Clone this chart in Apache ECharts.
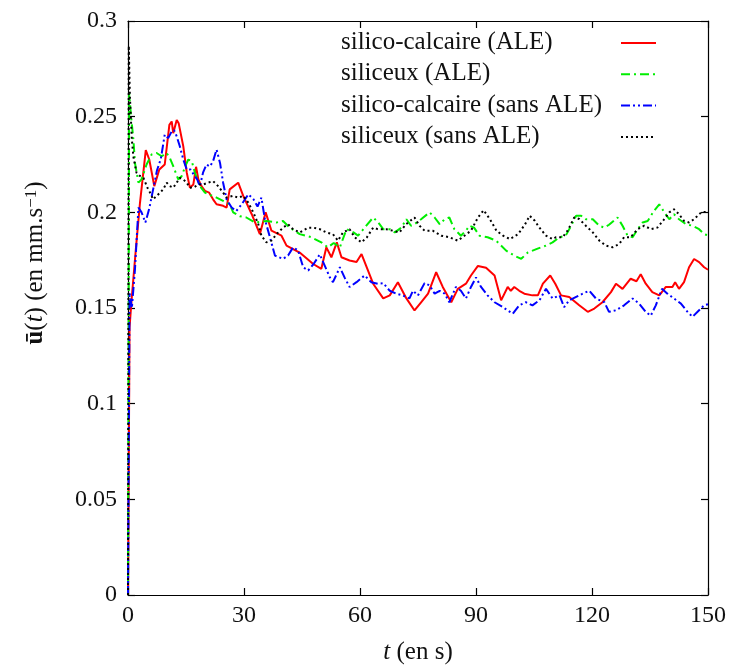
<!DOCTYPE html>
<html>
<head>
<meta charset="utf-8">
<script src="https://cdn.jsdelivr.net/npm/echarts@6/dist/echarts.min.js"></script>
<style>
html,body{margin:0;padding:0;background:#fff;}
#chart{width:736px;height:670px;}
</style>
</head>
<body>
<div id="chart"></div>
<script>
// ---- data: [t (s), u (mm/s)] ----
const seriesNames = ['silico-calcaire (ALE)', 'siliceux (ALE)', 'silico-calcaire (sans ALE)', 'siliceux (sans ALE)'];
const xTicks = [0, 30, 60, 90, 120, 150];
const yTicks = [0, 0.05, 0.1, 0.15, 0.2, 0.25, 0.3];

const silicoCalcaireALE = [[0,0],[0.4,0.14],[1,0.156],[2,0.18],[3.1,0.205],[4.6,0.2325],[5.5,0.2276],[6.8,0.2137],[8.1,0.2224],[9.5,0.225],[10.7,0.2457],[11.3,0.2475],[11.7,0.2414],[12.6,0.2483],[13.1,0.2466],[13.6,0.2475],[14.3,0.2345],[15.2,0.2207],[16,0.2129],[16.9,0.2146],[17.6,0.2238],[18.2,0.2172],[19,0.2137],[19.9,0.2112],[21,0.2103],[22,0.2068],[22.9,0.2042],[24.6,0.2034],[25.5,0.2025],[26.3,0.212],[28.5,0.2155],[29.8,0.2086],[32,0.199],[34.1,0.1886],[35.6,0.2],[37.1,0.1904],[39.7,0.1878],[41,0.1826],[44.4,0.179],[47.9,0.173],[50,0.1705],[51.3,0.1817],[52.6,0.1765],[54,0.1843],[55.2,0.1765],[57.3,0.1748],[59.1,0.174],[60.4,0.1782],[63.4,0.1627],[66,0.155],[67.7,0.1566],[69.8,0.1635],[72,0.155],[74.1,0.1487],[75.8,0.153],[77.6,0.1575],[79.7,0.1687],[81.4,0.161],[83.6,0.153],[85.3,0.16],[87.4,0.1627],[88.7,0.167],[90.5,0.172],[92.6,0.171],[94.8,0.167],[96.5,0.154],[98.2,0.161],[99,0.159],[99.9,0.161],[101.2,0.159],[102.5,0.1575],[104.6,0.1566],[106,0.1566],[107.3,0.1627],[109.2,0.167],[110.5,0.1627],[112,0.1566],[114.1,0.1558],[116.7,0.1514],[118.9,0.148],[120.6,0.1497],[122.7,0.153],[124.9,0.1583],[126.2,0.1627],[127.9,0.16],[130,0.1653],[131.5,0.164],[132.6,0.1676],[133.9,0.1627],[135.6,0.1583],[137.4,0.1566],[139.1,0.161],[140.8,0.161],[141.5,0.1635],[142.5,0.16],[143.8,0.1635],[145.1,0.1713],[146.4,0.1756],[147.7,0.174],[149,0.1713],[150,0.170]];

const siliceuxALE = [[0,0],[0.3,0.262],[0.8,0.25],[1.4,0.238],[1.8,0.2258],[2.7,0.2155],[3.5,0.2172],[4.8,0.225],[6.1,0.2302],[7.4,0.231],[8.7,0.2293],[10,0.231],[10.8,0.2285],[11.7,0.2241],[13,0.2172],[13.9,0.219],[14.8,0.224],[15.6,0.2276],[16.5,0.2267],[17.3,0.2207],[18.6,0.2137],[19.9,0.2103],[21.3,0.209],[22.9,0.2077],[24.6,0.206],[26.3,0.2042],[27.2,0.2],[28.9,0.198],[30.6,0.1973],[32.8,0.1947],[35.8,0.1955],[38.4,0.1947],[40.1,0.1955],[41.8,0.192],[44.4,0.1886],[47.4,0.187],[50,0.1843],[51.7,0.1817],[53.2,0.184],[54.8,0.1817],[56.5,0.1912],[58.3,0.1895],[59.5,0.1878],[61.2,0.192],[63.4,0.1973],[64.6,0.195],[66,0.1912],[67.7,0.1912],[69,0.1895],[70.7,0.192],[72,0.1964],[73.2,0.193],[74.1,0.1938],[75.8,0.1964],[78,0.2],[79.3,0.1973],[80.6,0.1938],[81.9,0.1964],[83.1,0.1973],[84.4,0.1912],[86.1,0.1878],[87.4,0.1904],[88.3,0.193],[89.5,0.192],[90.9,0.1878],[93,0.187],[95.2,0.1852],[97.8,0.18],[99.9,0.1774],[101.7,0.1757],[103.4,0.179],[105.6,0.1808],[108.1,0.1826],[109.8,0.1843],[111.6,0.187],[113.2,0.1878],[114.6,0.193],[115.9,0.1982],[117.2,0.1982],[118.4,0.1964],[120.2,0.1964],[121.9,0.193],[123.2,0.192],[124.4,0.1935],[126.6,0.1973],[127.9,0.193],[129.2,0.1878],[130.5,0.187],[131.8,0.1912],[133.1,0.1947],[134.4,0.1955],[136,0.2007],[137.4,0.2042],[138.7,0.2],[140,0.1964],[141.2,0.199],[142.5,0.1964],[144.3,0.1938],[146,0.193],[147.7,0.1912],[149,0.1886],[150,0.188]];

const silicoCalcaireSansALE = [[0,0],[0.4,0.158],[1,0.15],[1.8,0.17],[2.7,0.2025],[3.5,0.2],[4.5,0.1947],[5.5,0.202],[6.5,0.212],[7.5,0.222],[8.5,0.228],[9.5,0.2406],[10.4,0.2388],[11.3,0.2423],[11.9,0.243],[12.6,0.2397],[13.4,0.2345],[14.3,0.2276],[15.2,0.2224],[16.2,0.2224],[17,0.2198],[17.9,0.2172],[18.6,0.2137],[19.4,0.2207],[20.3,0.225],[21.2,0.224],[22,0.2267],[22.9,0.2328],[23.8,0.2258],[24.6,0.2155],[25.5,0.2068],[26.8,0.2025],[28,0.2007],[29.4,0.2042],[31.1,0.2094],[32.4,0.207],[33.5,0.203],[34.5,0.2077],[35.4,0.1964],[36.7,0.187],[38,0.1774],[40.1,0.1757],[41.4,0.1774],[42.7,0.1817],[44,0.18],[45.3,0.1713],[46.6,0.1696],[48,0.173],[49.6,0.178],[50.9,0.172],[52.2,0.166],[53,0.1635],[54.8,0.1713],[56,0.166],[57.3,0.161],[59.1,0.1635],[61.2,0.167],[62.9,0.1635],[64.6,0.1627],[66,0.163],[67.7,0.159],[69.4,0.1575],[71,0.1566],[72.8,0.155],[73.7,0.159],[75,0.1566],[76.7,0.163],[78,0.1618],[79.3,0.1575],[80.6,0.159],[81.9,0.1575],[83.1,0.153],[84.8,0.161],[86.1,0.159],[87.4,0.155],[88.7,0.161],[90,0.166],[91.3,0.161],[93,0.1566],[94.8,0.153],[96.9,0.1505],[99.5,0.147],[101.2,0.1514],[102.9,0.153],[104.6,0.1514],[106.4,0.154],[108.1,0.16],[109.8,0.155],[111.6,0.1566],[112.8,0.1505],[114.1,0.154],[115.9,0.1558],[117.6,0.1575],[119.3,0.159],[121,0.155],[123.2,0.153],[124.4,0.148],[126.2,0.1488],[128.3,0.1514],[130.5,0.155],[132.2,0.1523],[133.9,0.148],[135.2,0.146],[136.5,0.1514],[138.1,0.16],[139.5,0.1575],[141.2,0.155],[143,0.1523],[144.7,0.148],[146,0.1454],[147.3,0.148],[149,0.1514],[150,0.152]];

const siliceuxSansALE = [[0,0],[0.2,0.287],[0.5,0.26],[1,0.238],[1.4,0.229],[2.2,0.2207],[3.1,0.219],[4,0.218],[5,0.213],[5.7,0.2103],[6.5,0.2068],[7.4,0.2086],[8.3,0.2103],[9.1,0.212],[10,0.2155],[10.8,0.2137],[11.7,0.2129],[12.6,0.2155],[13.4,0.218],[14.3,0.2172],[15.2,0.2155],[16,0.2129],[17,0.213],[18.2,0.2146],[19.5,0.2146],[20.7,0.2155],[22,0.2163],[23.3,0.2137],[24.6,0.2103],[25.5,0.2077],[27.2,0.2086],[28.5,0.2077],[29.8,0.2086],[31.1,0.2051],[32.4,0.2],[33.7,0.1938],[34.5,0.1878],[35.8,0.1843],[37.1,0.1852],[38.6,0.189],[40.1,0.192],[41.4,0.1938],[42.7,0.1912],[44.4,0.1895],[46.6,0.192],[47.9,0.192],[49.6,0.1912],[51.3,0.1895],[53,0.1886],[54.3,0.1852],[55.6,0.1895],[57.3,0.1912],[58.6,0.187],[60.4,0.1843],[61.8,0.187],[63.4,0.192],[64.6,0.1912],[66.8,0.1912],[68.5,0.1904],[70.2,0.1895],[71.9,0.1938],[74.1,0.1973],[75.4,0.193],[76.7,0.1904],[78.8,0.1904],[81,0.1878],[83.1,0.187],[85.3,0.1852],[87,0.1878],[88.7,0.1904],[90.5,0.1973],[92,0.2011],[93.6,0.1964],[95.3,0.1904],[97,0.1878],[98.8,0.186],[100.9,0.1886],[102.7,0.1938],[103.9,0.1982],[105.2,0.1956],[106.4,0.192],[108.1,0.1878],[109.8,0.186],[110.7,0.187],[112.4,0.187],[113.7,0.1904],[115.4,0.1973],[116.7,0.1965],[118.4,0.193],[120.2,0.1895],[121.9,0.1852],[123.6,0.1826],[125.3,0.1817],[127,0.1834],[128.3,0.187],[130,0.187],[131.8,0.1912],[133.5,0.193],[135.2,0.1912],[136.9,0.192],[138.7,0.1964],[140,0.2],[141.2,0.2016],[142.5,0.199],[143.8,0.1955],[145.1,0.1947],[146.4,0.1964],[147.7,0.199],[148.5,0.2003],[150,0.2]];

// ---- styling ----
const FONT = "'Liberation Serif', 'DejaVu Serif', serif";
const TXT = '#111';
const colors = ['#ff0000', '#00ee00', '#0000ff', '#000000'];
const dashes = ['solid', [9, 4, 2, 4], [9, 3, 2, 3, 2, 3], [2, 3]];
const dashArrays = [null, [9, 4, 2, 4], [9, 3, 2, 3, 2, 3], [2, 3]];
const datasets = [silicoCalcaireALE, siliceuxALE, silicoCalcaireSansALE, siliceuxSansALE];

const chart = echarts.init(document.getElementById('chart'), null, {renderer: 'canvas'});

const axisLine = {show: true, onZero: false, lineStyle: {color: '#000', width: 1.2}};
const tick = {show: true, inside: true, length: 7, lineStyle: {color: '#000', width: 1.2}};
const fmtY = v => String(+v.toFixed(2));

// key (legend) drawn like gnuplot's: text left, sample line right
const keyLeft = 341, keyTop = 43, keyStep = 31.3, sampleX0 = 621, sampleX1 = 656;
const keyGraphics = [];
seriesNames.forEach((name, k) => {
  const y = keyTop + k * keyStep;
  keyGraphics.push({
    type: 'text', left: keyLeft, top: y - 13, silent: true,
    style: {text: name, fontFamily: FONT, fontSize: 25, fill: TXT}
  });
  keyGraphics.push({
    type: 'line', silent: true,
    shape: {x1: sampleX0, y1: y, x2: sampleX1, y2: y},
    style: {stroke: colors[k], lineWidth: 2, lineDash: dashArrays[k]}
  });
});

chart.setOption({
  animation: false,
  backgroundColor: '#fff',
  textStyle: {fontFamily: FONT},
  grid: {left: 128, right: 28, top: 21, bottom: 70, containLabel: false},
  graphic: keyGraphics,
  xAxis: [{
    type: 'value', min: xTicks[0], max: xTicks[xTicks.length - 1], interval: 30,
    position: 'bottom',
    axisLine: axisLine, axisTick: tick, splitLine: {show: false},
    axisLabel: {fontFamily: FONT, fontSize: 24, color: TXT, margin: 9},
    name: '{i|t} (en s)',
    nameLocation: 'middle', nameGap: 45,
    nameTextStyle: {fontFamily: FONT, fontSize: 25, color: TXT,
      rich: {i: {fontStyle: 'italic', fontFamily: FONT, fontSize: 25, color: TXT}}}
  }, {
    type: 'value', min: xTicks[0], max: xTicks[xTicks.length - 1], interval: 30,
    position: 'top',
    axisLine: axisLine, axisTick: tick, splitLine: {show: false},
    axisLabel: {show: false}
  }],
  yAxis: [{
    type: 'value', min: yTicks[0], max: yTicks[yTicks.length - 1], interval: 0.05,
    position: 'left',
    axisLine: axisLine, axisTick: tick, splitLine: {show: false},
    axisLabel: {fontFamily: FONT, fontSize: 24, color: TXT, margin: 11, formatter: fmtY},
    name: '{b|ū}({i|t}) (en mm.s{s|−1})',
    nameLocation: 'middle', nameGap: 80, nameRotate: 90,
    nameTextStyle: {fontFamily: FONT, fontSize: 25, color: TXT, padding: [0, 0, 0, 90],
      rich: {
        b: {fontWeight: 'bold', fontFamily: FONT, fontSize: 25, color: TXT},
        i: {fontStyle: 'italic', fontFamily: FONT, fontSize: 25, color: TXT},
        s: {fontFamily: FONT, fontSize: 17, color: TXT, verticalAlign: 'top'}
      }}
  }, {
    type: 'value', min: yTicks[0], max: yTicks[yTicks.length - 1], interval: 0.05,
    position: 'right',
    axisLine: axisLine, axisTick: tick, splitLine: {show: false},
    axisLabel: {show: false}
  }],
  series: seriesNames.map((name, k) => ({
    name: name,
    type: 'line',
    xAxisIndex: 0,
    yAxisIndex: 0,
    data: datasets[k],
    symbol: 'none',
    showSymbol: false,
    smooth: false,
    color: colors[k],
    lineStyle: {color: colors[k], width: 2, type: dashes[k]},
    z: 2 + k
  }))
});
</script>
</body>
</html>
